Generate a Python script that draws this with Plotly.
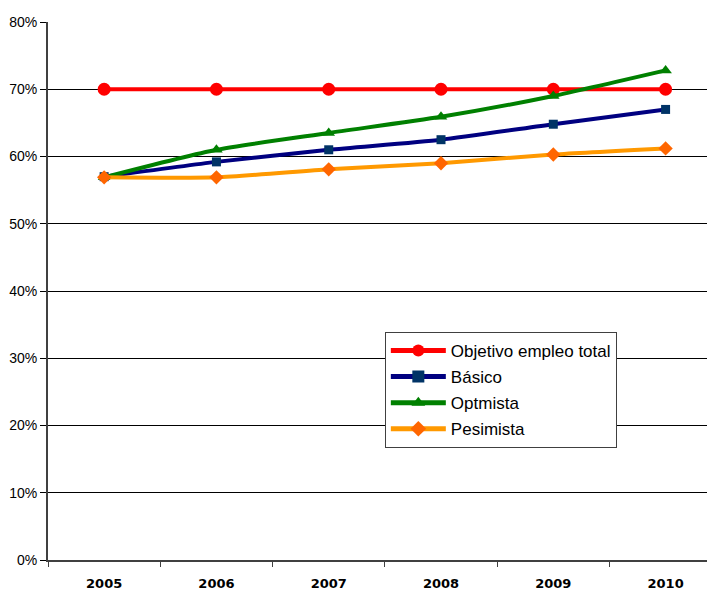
import plotly.graph_objects as go

years = ["2005", "2006", "2007", "2008", "2009", "2010"]
objetivo = [70, 70, 70, 70, 70, 70]
basico = [57.0, 59.2, 61.0, 62.5, 64.8, 67.0]
optimista = [56.9, 61.0, 63.5, 65.9, 69.0, 72.8]
pesimista = [56.9, 56.9, 58.1, 59.0, 60.3, 61.2]

series = [
    ("Objetivo empleo total", objetivo, "#FF0000", "#FF0000", "circle", 13),
    ("Básico", basico, "#000080", "#003366", "square", 9),
    ("Optmista", optimista, "#008000", "#008000", "triangle-up", 11),
    ("Pesimista", pesimista, "#FF9900", "#FF6600", "diamond", 11),
]

fig = go.Figure()
for i, (name, vals, lc, mc, sym, sz) in enumerate(series):
    fig.add_trace(go.Scatter(
        x=years, y=vals, name=name, mode="lines+markers",
        legendgroup=f"g{i}",
        line=dict(color=lc, width=4, shape="spline", smoothing=0.6),
        marker=dict(color=mc, symbol=sym, size=sz),
    ))

fig.update_layout(
    width=715, height=590,
    margin=dict(l=40, r=8, t=14, b=38, autoexpand=False),
    paper_bgcolor="white", plot_bgcolor="white",
    font=dict(family="Liberation Sans, Arial, sans-serif", color="black", size=13),
    legend=dict(
        x=0.505, y=0.424, xanchor="left", yanchor="top",
        bgcolor="white", bordercolor="#404040", borderwidth=1,
        font=dict(size=17), tracegroupgap=1, itemwidth=55,
        itemsizing="constant",
    ),
    showlegend=True,
)
fig.update_xaxes(
    type="category", range=[-0.5, 5.44], automargin=False,
    tickson="boundaries", ticks="outside", ticklen=5, tickcolor="#404040",
    showline=True, linecolor="#404040", linewidth=2,
    showgrid=False, ticklabelstandoff=10,
    tickfont=dict(size=13, family="DejaVu Sans, sans-serif", weight="bold"),
)
fig.update_yaxes(
    range=[0, 80], dtick=10, ticksuffix="%", automargin=False,
    ticks="outside", ticklen=6, tickcolor="black",
    showline=True, linecolor="#404040", linewidth=2,
    showgrid=True, gridcolor="black", gridwidth=1, zeroline=False,
    tickfont=dict(size=14),
)

fig.write_html("out.html")
